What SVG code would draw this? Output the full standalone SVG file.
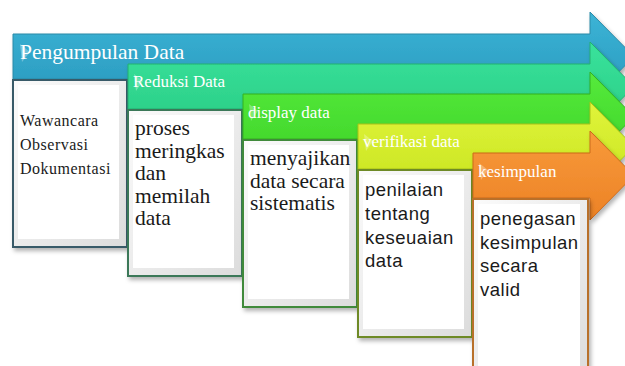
<svg xmlns="http://www.w3.org/2000/svg" width="625" height="366" viewBox="0 0 625 366">
<defs>
<linearGradient id="gBlue" x1="0" y1="0" x2="0" y2="1"><stop offset="0" stop-color="#3cb4d6"/><stop offset="1" stop-color="#2898bd"/></linearGradient>
<linearGradient id="gTeal" x1="0" y1="0" x2="0" y2="1"><stop offset="0" stop-color="#3ae29c"/><stop offset="1" stop-color="#28cc84"/></linearGradient>
<linearGradient id="gGreen" x1="0" y1="0" x2="0" y2="1"><stop offset="0" stop-color="#56ea3c"/><stop offset="1" stop-color="#3ed428"/></linearGradient>
<linearGradient id="gLime" x1="0" y1="0" x2="0" y2="1"><stop offset="0" stop-color="#e0f43a"/><stop offset="1" stop-color="#c8e420"/></linearGradient>
<linearGradient id="gOrange" x1="0" y1="0" x2="0" y2="1"><stop offset="0" stop-color="#f89a3a"/><stop offset="1" stop-color="#ec8226"/></linearGradient>
<linearGradient id="gBevel" x1="0" y1="0" x2="1" y2="1"><stop offset="0" stop-color="#fbfbfb"/><stop offset="1" stop-color="#dcdcdc"/></linearGradient>
<filter id="sh" x="-10%" y="-10%" width="130%" height="130%"><feDropShadow dx="2" dy="3" stdDeviation="2" flood-color="#000" flood-opacity="0.3"/></filter>
</defs>
<style>
.hdr{font-family:"Liberation Serif","Times New Roman",serif;fill:#ffffff}
.ser{font-family:"Liberation Serif","Times New Roman",serif;fill:#1a1a1a}
.san{font-family:"Liberation Sans",Arial,sans-serif;fill:#1a1a1a;font-size:18.5px;letter-spacing:0.5px}
.inner{fill:#ffffff}
.tri{fill:#ffffff;opacity:0.3}
</style>

<g id="n1">
<path d="M13,34 H590 V12 L634,56.5 L590,101 V79 H13 Z" fill="url(#gBlue)" stroke="#2a8aa8" stroke-width="1" filter="url(#sh)"/>
<polygon class="tri" points="20,44 30,52 22,62"/>
<text class="hdr" x="20" y="59" font-size="21.5">Pengumpulan Data</text>
<rect x="13" y="80" width="114" height="167" fill="url(#gBevel)" stroke="#385a68" stroke-width="2" filter="url(#sh)"/>
<rect class="inner" x="18" y="85" width="101" height="154"/>
<text class="ser" font-size="16" letter-spacing="0.5"><tspan x="20" y="126">Wawancara</tspan><tspan x="20" y="150">Observasi</tspan><tspan x="20" y="174">Dokumentasi</tspan></text>
</g>

<g id="n2">
<path d="M128,64 H590 V42 L634,86.5 L590,131 V109 H128 Z" fill="url(#gTeal)" stroke="#24b070" stroke-width="1" filter="url(#sh)"/>
<polygon class="tri" points="134,74 143,81 136,91"/>
<text class="hdr" x="133" y="87" font-size="17">Reduksi Data</text>
<rect x="128" y="110" width="114" height="166" fill="url(#gBevel)" stroke="#3a7858" stroke-width="2" filter="url(#sh)"/>
<rect class="inner" x="133" y="115" width="101" height="153"/>
<text class="ser" font-size="21.5"><tspan x="135" y="135">proses</tspan><tspan x="135" y="157.5">meringkas</tspan><tspan x="135" y="180">dan</tspan><tspan x="135" y="202.5">memilah</tspan><tspan x="135" y="225">data</tspan></text>
</g>

<g id="n3">
<path d="M243,94 H590 V72 L634,116.5 L590,161 V139 H243 Z" fill="url(#gGreen)" stroke="#34b020" stroke-width="1" filter="url(#sh)"/>
<polygon class="tri" points="249,104 258,111 251,121"/>
<text class="hdr" x="248" y="118" font-size="17">display data</text>
<rect x="243" y="140" width="114" height="167" fill="url(#gBevel)" stroke="#3f8a3a" stroke-width="2" filter="url(#sh)"/>
<rect class="inner" x="248" y="145" width="101" height="154"/>
<text class="ser" font-size="21.5"><tspan x="250" y="165">menyajikan</tspan><tspan x="250" y="187.5">data secara</tspan><tspan x="250" y="210">sistematis</tspan></text>
</g>

<g id="n4">
<path d="M358,124 H590 V102 L634,146.5 L590,191 V169 H358 Z" fill="url(#gLime)" stroke="#a8c018" stroke-width="1" filter="url(#sh)"/>
<polygon class="tri" points="364,134 373,141 366,151"/>
<text class="hdr" x="363" y="147" font-size="17">verifikasi data</text>
<rect x="358" y="170" width="114" height="167" fill="url(#gBevel)" stroke="#6e8a28" stroke-width="2" filter="url(#sh)"/>
<rect class="inner" x="363" y="175" width="101" height="154"/>
<text class="san"><tspan x="365" y="196">penilaian</tspan><tspan x="365" y="220">tentang</tspan><tspan x="365" y="243.5">keseuaian</tspan><tspan x="365" y="267">data</tspan></text>
</g>

<g id="n5">
<path d="M473,153 H590 V131 L634,175.5 L590,220 V198 H473 Z" fill="url(#gOrange)" stroke="#cc6a1c" stroke-width="1" filter="url(#sh)"/>
<polygon class="tri" points="479,163 488,170 481,180"/>
<text class="hdr" x="478" y="177" font-size="17">kesimpulan</text>
<rect x="473" y="199" width="115" height="175" fill="url(#gBevel)" stroke="#b8702a" stroke-width="2" filter="url(#sh)"/>
<rect class="inner" x="478" y="204" width="102" height="166"/>
<text class="san"><tspan x="480" y="225">penegasan</tspan><tspan x="480" y="248.5">kesimpulan</tspan><tspan x="480" y="272">secara</tspan><tspan x="480" y="296">valid</tspan></text>
</g>

<g id="connectors"/>
</svg>
